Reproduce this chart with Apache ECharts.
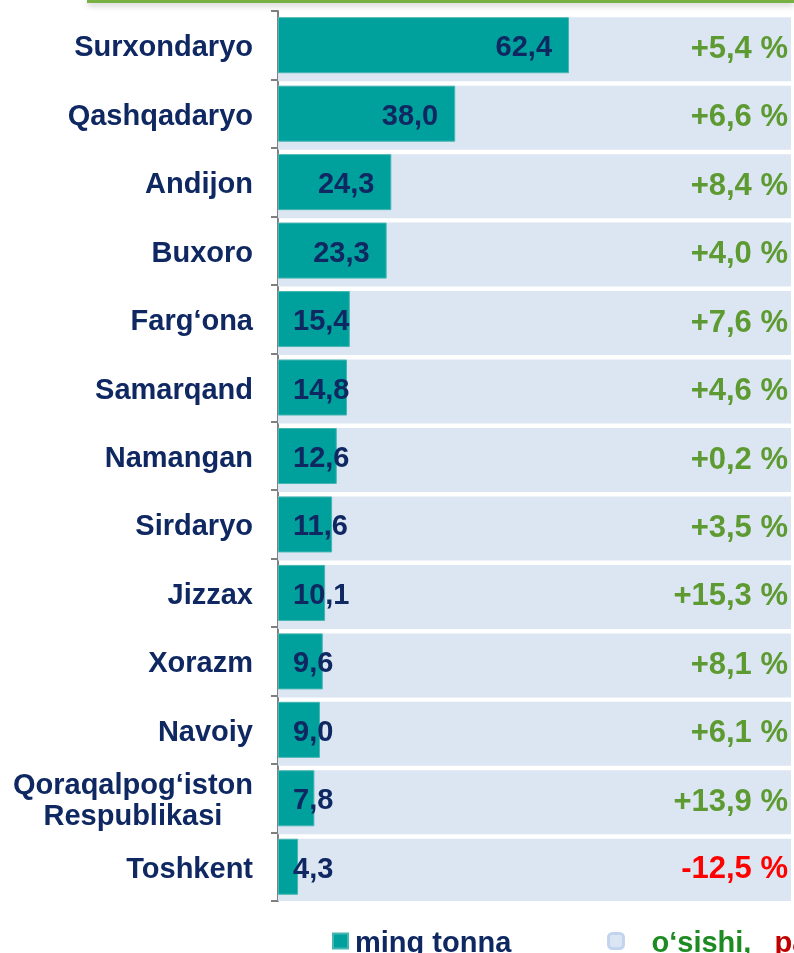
<!DOCTYPE html>
<html>
<head>
<meta charset="utf-8">
<title>ming tonna</title>
<script src="https://cdn.jsdelivr.net/npm/echarts@6/dist/echarts.min.js"></script>
<style>
  html, body { margin: 0; padding: 0; background: #fff; }
  #main { width: 794px; height: 953px; }
</style>
</head>
<body>
<div id="main"></div>
<script>
// regions, top to bottom
var regions = ['Surxondaryo', 'Qashqadaryo', 'Andijon', 'Buxoro', 'Farg‘ona', 'Samarqand',
  'Namangan', 'Sirdaryo', 'Jizzax', 'Xorazm', 'Navoiy', 'Qoraqalpog‘iston\nRespublikasi', 'Toshkent'];
// ming tonna
var volumes = [62.4, 38.0, 24.3, 23.3, 15.4, 14.8, 12.6, 11.6, 10.1, 9.6, 9.0, 7.8, 4.3];
// o'sishi / pasayishi, %
var growth = [5.4, 6.6, 8.4, 4.0, 7.6, 4.6, 0.2, 3.5, 15.3, 8.1, 6.1, 13.9, -12.5];

var FONT = "'Liberation Sans', Arial, sans-serif";
var NAVY = '#0f2862';
var TEAL = '#00a09c';
var BAND = '#dce6f2';
var AXIS_MAX = 110;

function comma(v) {
  return v.toFixed(1).replace('.', ',');
}

var myChart = echarts.init(document.getElementById('main'));

// teal bars: label sits inside the end, small bars keep it at the start
var volumeData = volumes.map(function (v) {
  var big = v >= 20;
  return {
    value: v,
    label: {
      position: big ? 'insideRight' : 'insideLeft',
      distance: big ? 17 : 15
    }
  };
});

// light band behind every row carries the growth label
var bandData = growth.map(function (g) {
  return {
    value: AXIS_MAX,
    label: {
      formatter: (g > 0 ? '+' : '') + comma(g) + ' %',
      color: g < 0 ? '#ff0000' : '#5e9a32'
    }
  };
});

var option = {
  animation: false,
  textStyle: { fontFamily: FONT },
  grid: { left: 278, right: 3, top: 11, bottom: 52 },
  legend: [
    {
      left: 332,
      top: 929,
      padding: 0,
      itemWidth: 15,
      itemHeight: 15,
      selectedMode: false,
      data: [{ name: 'ming tonna', icon: 'rect' }],
      formatter: function (name) {
        return '{n|' + name + '}';
      },
      textStyle: {
        rich: {
          n: { fontFamily: FONT, fontWeight: 'bold', fontSize: 29, color: NAVY, padding: [5, 0, 0, 2] }
        }
      }
    },
    {
      left: 607,
      top: 929,
      padding: 0,
      itemWidth: 15,
      itemHeight: 15,
      selectedMode: false,
      data: [{
        name: 'band',
        icon: 'roundRect',
        itemStyle: { color: '#dbe5f3', borderColor: '#c3d5ee', borderWidth: 3 }
      }],
      formatter: function () {
        return '{g|o‘sishi,}{r|pasayishi (%)}';
      },
      textStyle: {
        rich: {
          g: { fontFamily: FONT, fontWeight: 'bold', fontSize: 29, color: '#1e8a22', padding: [5, 0, 0, 23] },
          r: { fontFamily: FONT, fontWeight: 'bold', fontSize: 29, color: '#c00000', padding: [5, 0, 0, 23] }
        }
      }
    }
  ],
  xAxis: {
    type: 'value',
    min: 0,
    max: AXIS_MAX,
    show: false
  },
  yAxis: {
    type: 'category',
    inverse: true,
    data: regions,
    axisLine: { show: true, lineStyle: { color: '#808080', width: 2 } },
    axisTick: { show: true, length: 7, lineStyle: { color: '#808080', width: 2 } },
    axisLabel: {
      margin: 25,
      formatter: function (name) {
        return '{c|' + name + '}';
      },
      rich: {
        c: {
          fontFamily: FONT, fontWeight: 'bold', fontSize: 29, color: NAVY,
          align: 'center', lineHeight: 31, padding: [6, 0, 0, 0]
        }
      }
    }
  },
  series: [
    {
      name: 'band',
      type: 'bar',
      barWidth: 64,
      silent: true,
      data: bandData,
      itemStyle: { color: BAND },
      label: {
        show: true,
        position: 'insideRight',
        distance: 3,
        fontFamily: FONT,
        fontWeight: 'bold',
        fontSize: 31
      },
      z: 1
    },
    {
      name: 'ming tonna',
      type: 'bar',
      barWidth: 56,
      barGap: '-100%',
      data: volumeData,
      itemStyle: { color: TEAL, borderColor: '#46b6b2', borderWidth: 1 },
      label: {
        show: true,
        fontFamily: FONT,
        fontWeight: 'bold',
        fontSize: 29,
        color: NAVY,
        offset: [0, 3],
        formatter: function (p) { return comma(p.value); }
      },
      z: 2
    }
  ],
  graphic: [
    {
      type: 'rect',
      left: 87,
      top: 0,
      shape: { width: 707, height: 3 },
      style: {
        fill: '#78b043',
        shadowBlur: 6,
        shadowOffsetY: 2,
        shadowColor: 'rgba(0,0,0,0.3)'
      }
    }
  ]
};

myChart.setOption(option);
</script>
</body>
</html>
